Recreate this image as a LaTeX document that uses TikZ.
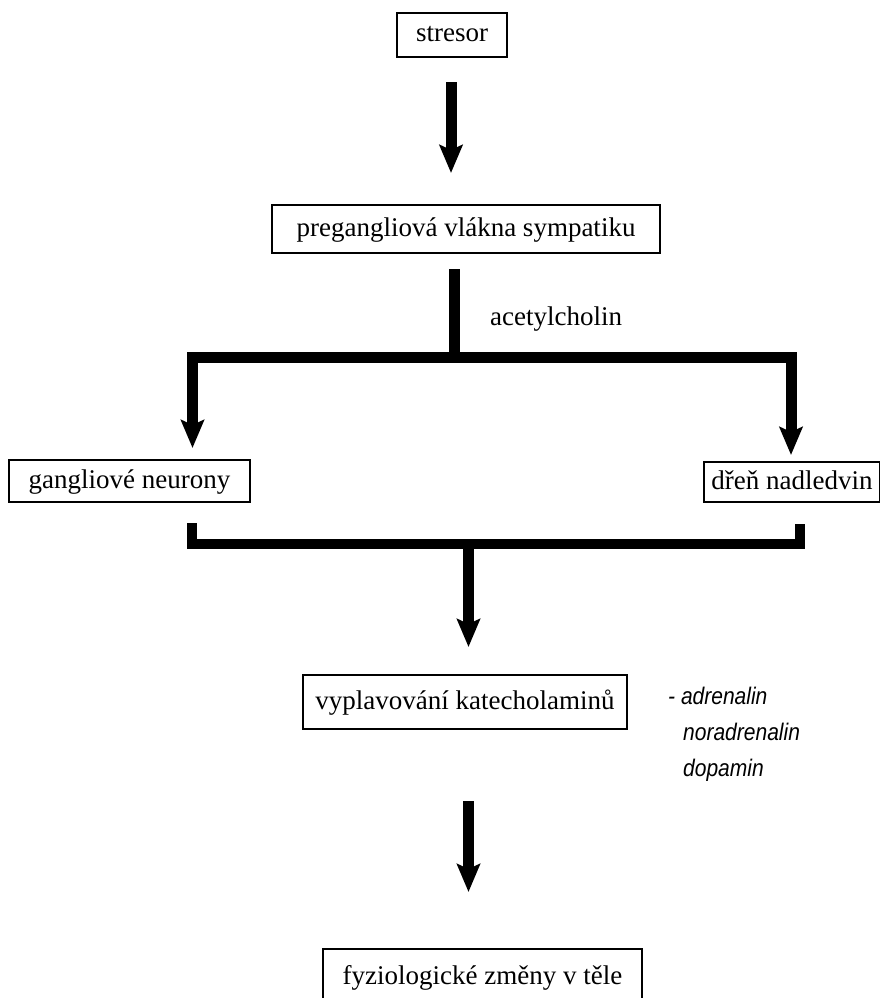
\documentclass[tikz,border=0pt]{standalone}
\usepackage{fontspec}
\setmainfont{Liberation Serif}
\newfontfamily\listfont{Liberation Sans}
\usetikzlibrary{arrows.meta}
\newcommand{\narrowtxt}[1]{\scalebox{0.875}[1]{#1}}
\begin{document}
\begin{tikzpicture}[x=1pt,y=-1pt,
  box/.style={draw, line width=1.2pt, inner sep=0pt, text height=20pt, text depth=6pt,
    font=\fontsize{27}{32}\selectfont},
  flow/.style={line width=11pt, -{Stealth[length=28pt,width=23pt,inset=5pt]}},
  branch/.style={line width=11pt, line join=miter,
    {Stealth[length=28pt,width=23pt,inset=5pt]}-{Stealth[length=28pt,width=23pt,inset=5pt]}},
  bracket/.style={line width=10pt, line join=miter},
  stem/.style={line width=11pt},
  lbl/.style={inner sep=0pt, font=\fontsize{27}{32}\selectfont},
  itm/.style={inner sep=0pt, anchor=base west, font=\listfont\itshape\fontsize{24}{29}\selectfont}]
\clip (0,0) rectangle (880,998);
\fill[white] (0,0) rectangle (880,998);

% boxes
\node[box, minimum width=110pt, minimum height=44pt] (stresor) at (452,35) {stresor};
\node[box, minimum width=388pt, minimum height=48pt] (pregang) at (466,229) {pregangliová vlákna sympatiku};
\node[box, minimum width=241pt, minimum height=42pt] (gang) at (129.5,481) {gangliové neurony};
\node[box, minimum width=176pt, minimum height=40pt] (dren) at (792,482) {dřeň nadledvin};
\node[box, minimum width=324pt, minimum height=54pt] (vypl) at (465,702) {vyplavování katecholaminů};
\node[box, minimum width=319pt, minimum height=56pt] (fyz) at (482.5,977) {fyziologické změny v těle};

% label
\node[lbl, anchor=base west] (ach) at (490,325) {acetylcholin};

% list
\node[itm] (adr) at (668,704) {\narrowtxt{- adrenalin}};
\node[itm] (nor) at (683,740) {\narrowtxt{noradrenalin}};
\node[itm] (dop) at (683,776) {\narrowtxt{dopamin}};

% coordinates
\coordinate (a1s) at (451,82);
\coordinate (a1e) at (451,173);
\coordinate (st1) at (454.5,269);
\coordinate (bj) at (454.5,357);
\coordinate (bl) at (192.5,357);
\coordinate (br) at (791,357);
\coordinate (blt) at (192.5,448);
\coordinate (brt) at (791,455);
\coordinate (cl) at (192,523);
\coordinate (clb) at (192,544);
\coordinate (crb) at (800,544);
\coordinate (cr) at (800,524);
\coordinate (cj) at (468.5,544);
\coordinate (cjt) at (468.5,647);
\coordinate (a4s) at (468.5,801);
\coordinate (a4e) at (468.5,892);

% connectors
\draw[flow] (a1s) -- (a1e);
\draw[stem] (st1) -- (bj);
\draw[branch] (blt) -- (bl) -- (br) -- (brt);
\draw[bracket] (cl) -- (clb) -- (crb) -- (cr);
\draw[flow] (cj) -- (cjt);
\draw[flow] (a4s) -- (a4e);
\end{tikzpicture}
\end{document}
